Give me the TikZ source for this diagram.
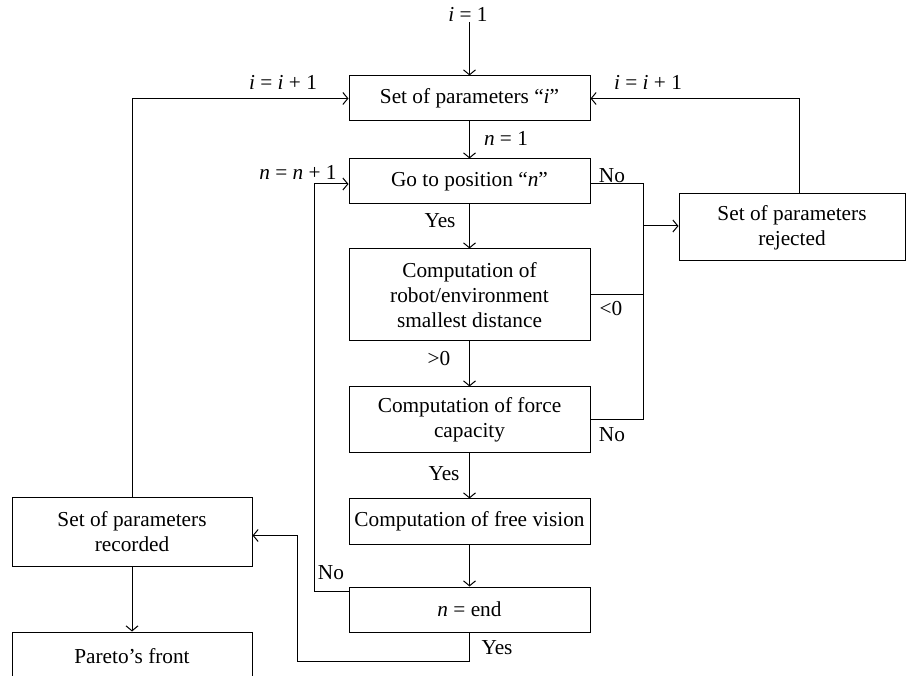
\documentclass[tikz,border=0pt]{standalone}
\usepackage{fontspec}
\setmainfont{Liberation Serif}
\usetikzlibrary{arrows.meta,calc}
\newcommand{\vi}{\textit{i}}
\newcommand{\vn}{\textit{n}}
\begin{document}
\begin{tikzpicture}[x=1pt,y=-1pt,
  font=\fontsize{21.3}{25}\selectfont,
  box/.style={draw, line width=1pt, minimum width=241pt, align=center, inner sep=0pt},
  ln/.style={line width=1pt},
  arr/.style={ln, -{Straight Barb[length=5pt,width=12pt]}},
  lbl/.style={inner sep=0pt}]
\useasboundingbox (0,0) rectangle (906,676);
\clip (0,0) rectangle (906,676);
% boxes
\node[box, minimum height=45pt] (b1) at (469.5,98.5) {Set of parameters “\vi”};
\node[box, minimum height=45pt] (b2) at (469.5,181.5) {Go to position “\vn”};
\node[box, minimum height=92pt] (b3) at (469.5,295) {Computation of\\robot/environment\\smallest distance};
\node[box, minimum height=66pt] (b4) at (469.5,420) {Computation of force\\capacity};
\node[box, minimum height=45pt] (b5) at (469.5,521.5) {Computation of free vision};
\node[box, minimum height=45pt] (b6) at (469.5,609.5) {\vn{} = end};
\node[box, minimum width=226pt, minimum height=67pt] (rej) at (792,227.5) {Set of parameters\\rejected};
\node[box, minimum width=240pt, minimum height=68pt] (rec) at (132,532) {Set of parameters\\recorded};
\node[box, minimum width=240pt, minimum height=68pt, text height=0pt] (par) at (132,666) {};
\node[lbl] (part) at (132,656) {Pareto’s front};
% coordinates
\coordinate (top) at (469.5,22);
\coordinate (rx) at (643,0);
\coordinate (lx) at (314,0);
\coordinate (yx) at (297,0);
% labels
\node[lbl] (li1) at (468,14) {\vi{} = 1};
\node[lbl] (lii) at (283,82) {\vi{} = \vi{} + 1};
\node[lbl] (lir) at (648,82) {\vi{} = \vi{} + 1};
\node[lbl] (ln1) at (506,138) {\vn{} = 1};
\node[lbl] (lnn) at (298,172) {\vn{} = \vn{} + 1};
\node[lbl] (lno1) at (612,176) {No};
\node[lbl] (lyes1) at (440,221) {Yes};
\node[lbl] (llt) at (611,309) {<0};
\node[lbl] (lgt) at (439,359) {>0};
\node[lbl] (lno2) at (612,435) {No};
\node[lbl] (lyes2) at (444,474) {Yes};
\node[lbl] (lno3) at (331,573) {No};
\node[lbl] (lyes3) at (497,648) {Yes};
% connectors
\draw[arr] (top) -- (b1.north);
\draw[arr] (b1.south) -- (b2.north);
\draw[arr] (b2.south) -- (b3.north);
\draw[arr] (b3.south) -- (b4.north);
\draw[arr] (b4.south) -- (b5.north);
\draw[arr] (b5.south) -- (b6.north);
\draw[arr] (rec.north) -- (rec.north |- b1.west) -- (b1.west);
\draw[arr] ([xshift=7pt]rej.north) -- ([xshift=7pt]rej.north |- b1.east) -- (b1.east);
\draw[ln] ($(b2.east)+(0,2.5)$) coordinate (c0) -- (c0 -| rx) -- (rx |- b4.east) -- (b4.east);
\draw[ln] (b3.east) -- (b3.east -| rx);
\draw[arr] ($(rx |- rej.west)+(0,-1.5)$) coordinate (c3) -- (c3 -| rej.west);
\draw[arr] ($(b6.north west)+(0,5)$) coordinate (c1) -- (c1 -| lx) -- ($(lx |- b2.west)+(0,2.5)$) coordinate (c4) -- (c4 -| b2.west);
\draw[arr] (b6.south) -- ++(0,29) coordinate (c2) -- (c2 -| yx) -- ($(yx |- rec.east)+(0,3.5)$) coordinate (c5) -- (c5 -| rec.east);
\draw[arr] (rec.south) -- (par.north);
\end{tikzpicture}
\end{document}
